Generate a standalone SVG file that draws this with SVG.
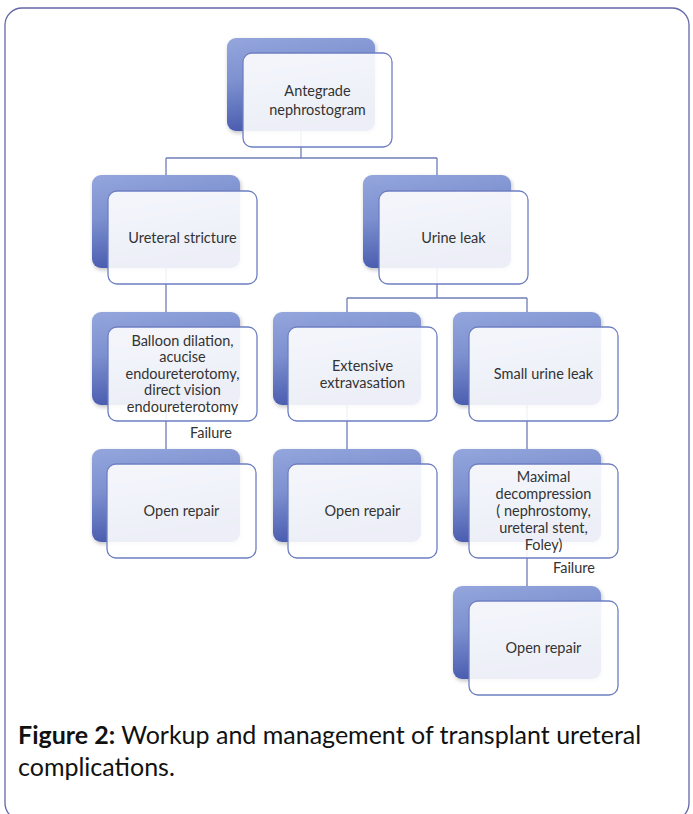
<svg xmlns="http://www.w3.org/2000/svg" width="693" height="814" viewBox="0 0 693 814">
<defs>
<linearGradient id="g" x1="0" y1="0" x2="0.25" y2="1">
<stop offset="0" stop-color="#94a6dc"/>
<stop offset="0.45" stop-color="#7d91d0"/>
<stop offset="1" stop-color="#4759ad"/>
</linearGradient>
<filter id="sh" x="-10%" y="-10%" width="125%" height="125%">
<feGaussianBlur in="SourceAlpha" stdDeviation="2"/>
<feOffset dx="1" dy="2"/>
<feComponentTransfer><feFuncA type="linear" slope="0.25"/></feComponentTransfer>
<feMerge><feMergeNode/><feMergeNode in="SourceGraphic"/></feMerge>
</filter>
</defs>
<style>
.back{fill:url(#g);filter:url(#sh)}
.front{fill:#ffffff;fill-opacity:0.9;stroke:#6e7fc2;stroke-width:1.3}
.t{font-family:Lato,"Liberation Sans",sans-serif;font-size:14.5px;fill:#333333;text-anchor:middle}
.f{font-family:Lato,"Liberation Sans",sans-serif;font-size:14.5px;fill:#333333}
.conn{stroke:#6f7db8;stroke-width:1.3;fill:none}
.cap{font-family:Lato,"Liberation Sans",sans-serif;font-size:25px;fill:#111}
</style>
<rect x="5" y="8" width="684" height="812" rx="17" fill="#fff" stroke="#6367a6" stroke-width="1.3"/>
<g id="connectors">
<path class="conn" d="M301,130V158M166,158H437M166,158V175M437,158V175"/>
<path class="conn" d="M166,268V312"/>
<path class="conn" d="M437,268V298M347,298H527M347,298V312M527,298V312"/>
<path class="conn" d="M166,405V449M347,405V449M527,405V449M527,542V586"/>
</g>
<g id="root">
<rect class="back" x="227" y="38" width="148" height="93" rx="9"/>
<rect class="front" x="243" y="53" width="149" height="94" rx="9"/>
<text class="t" x="317.5" y="96">Antegrade</text>
<text class="t" x="317.5" y="115">nephrostogram</text>
</g>
<g id="ureteral-stricture">
<rect class="back" x="92" y="175" width="148" height="93" rx="9"/>
<rect class="front" x="108" y="191" width="149" height="93" rx="9"/>
<text class="t" x="182.5" y="243">Ureteral stricture</text>
</g>
<g id="urine-leak">
<rect class="back" x="363" y="175" width="148" height="93" rx="9"/>
<rect class="front" x="379" y="191" width="149" height="93" rx="9"/>
<text class="t" x="453.5" y="243">Urine leak</text>
</g>
<g id="balloon">
<rect class="back" x="92" y="312" width="148" height="93" rx="9"/>
<rect class="front" x="108" y="327" width="149" height="94" rx="9"/>
<text class="t" x="182.5" y="346">Balloon dilation,</text>
<text class="t" x="182.5" y="362">acucise</text>
<text class="t" x="182.5" y="379">endoureterotomy,</text>
<text class="t" x="182.5" y="395">direct vision</text>
<text class="t" x="182.5" y="412">endoureterotomy</text>
</g>
<g id="extensive">
<rect class="back" x="273" y="312" width="148" height="93" rx="9"/>
<rect class="front" x="288" y="327" width="149" height="94" rx="9"/>
<text class="t" x="362.5" y="371">Extensive</text>
<text class="t" x="362.5" y="388">extravasation</text>
</g>
<g id="small-leak">
<rect class="back" x="453" y="312" width="148" height="93" rx="9"/>
<rect class="front" x="469" y="327" width="149" height="94" rx="9"/>
<text class="t" x="543.5" y="379">Small urine leak</text>
</g>
<g id="open-repair-1">
<rect class="back" x="92" y="449" width="148" height="93" rx="9"/>
<rect class="front" x="107" y="464" width="149" height="94" rx="9"/>
<text class="t" x="181.5" y="516">Open repair</text>
</g>
<g id="open-repair-2">
<rect class="back" x="273" y="449" width="148" height="93" rx="9"/>
<rect class="front" x="288" y="464" width="149" height="94" rx="9"/>
<text class="t" x="362.5" y="516">Open repair</text>
</g>
<g id="maximal">
<rect class="back" x="453" y="449" width="148" height="93" rx="9"/>
<rect class="front" x="469" y="464" width="149" height="94" rx="9"/>
<text class="t" x="543.5" y="482">Maximal</text>
<text class="t" x="543.5" y="499">decompression</text>
<text class="t" x="543.5" y="516">( nephrostomy,</text>
<text class="t" x="543.5" y="533">ureteral stent,</text>
<text class="t" x="543.5" y="550">Foley)</text>
</g>
<g id="open-repair-3">
<rect class="back" x="453" y="586" width="148" height="93" rx="9"/>
<rect class="front" x="469" y="601" width="149" height="94" rx="9"/>
<text class="t" x="543.5" y="653">Open repair</text>
</g>
<g id="labels">
<text class="f" x="190" y="438">Failure</text>
<text class="f" x="553" y="573">Failure</text>
</g>
<g id="caption">
<text class="cap" x="18" y="744"><tspan font-weight="bold">Figure 2:</tspan> Workup and management of transplant ureteral</text>
<text class="cap" x="18" y="776">complications.</text>
</g>
</svg>
